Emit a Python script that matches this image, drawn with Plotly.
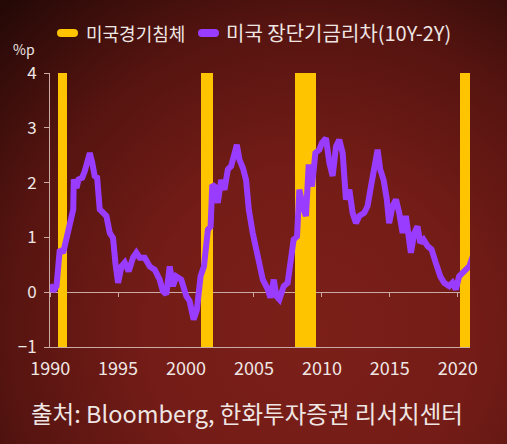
import base64
import plotly.graph_objects as go

# ---- data ----
spread_years = [
    1990.0, 1990.23, 1990.47, 1990.71, 1990.96, 1991.13, 1991.33, 1991.52, 1991.7, 1991.74,
    1991.94, 1992.1, 1992.36, 1992.55, 1992.75, 1992.92, 1993.1, 1993.28, 1993.46, 1993.65,
    1993.9, 1994.14, 1994.39, 1994.63, 1994.8, 1995.0, 1995.25, 1995.49, 1995.78, 1996.1,
    1996.35, 1996.59, 1996.96, 1997.33, 1997.7, 1998.06, 1998.3, 1998.55, 1998.8, 1999.04,
    1999.28, 1999.65, 2000.02, 2000.26, 2000.56, 2000.8, 2001.07, 2001.32, 2001.61, 2001.81,
    2001.93, 2002.1, 2002.34, 2002.59, 2002.83, 2003.08, 2003.32, 2003.57, 2003.74, 2003.93,
    2004.18, 2004.42, 2004.62, 2004.91, 2005.28, 2005.65, 2006.02, 2006.21, 2006.46, 2006.65,
    2006.87, 2007.19, 2007.48, 2007.73, 2007.92, 2008.17, 2008.34, 2008.59, 2008.83, 2009.03,
    2009.27, 2009.52, 2009.81, 2010.0, 2010.3, 2010.55, 2010.79, 2011.04, 2011.28, 2011.53,
    2011.77, 2012.02, 2012.26, 2012.51, 2012.75, 2013.12, 2013.36, 2013.61, 2013.9, 2014.1,
    2014.29, 2014.54, 2014.78, 2014.95, 2015.2, 2015.45, 2015.69, 2015.94, 2016.18, 2016.35,
    2016.55, 2016.8, 2017.04, 2017.24, 2017.48, 2017.78, 2018.07, 2018.39, 2018.71, 2019.0,
    2019.37, 2019.61, 2019.86, 2020.1, 2020.35, 2020.59, 2020.84, 2021.2,
]
spread_values = [
    0.14, 0.02, 0.11, 0.78, 0.72, 0.93, 1.14, 1.39, 1.51, 2.06,
    1.90, 2.06, 2.09, 2.21, 2.36, 2.54, 2.36, 2.12, 2.09, 1.51,
    1.45, 1.39, 1.08, 0.99, 0.54, 0.17, 0.47, 0.54, 0.38, 0.63,
    0.72, 0.63, 0.63, 0.47, 0.41, 0.23, 0.02, -0.04, 0.47, 0.11,
    0.29, 0.23, -0.07, -0.16, -0.50, -0.32, 0.29, 0.47, 1.14, 1.20,
    1.96, 1.93, 1.63, 2.05, 1.87, 2.24, 2.30, 2.51, 2.69, 2.42,
    2.27, 2.05, 1.51, 1.08, 0.66, 0.23, 0.05, -0.10, 0.23, -0.07,
    -0.13, 0.11, 0.17, 0.53, 0.96, 1.02, 1.87, 1.57, 1.39, 2.33,
    1.93, 2.54, 2.60, 2.72, 2.81, 2.36, 2.12, 2.66, 2.78, 2.54,
    1.69, 1.87, 1.45, 1.26, 1.39, 1.45, 1.57, 1.93, 2.42, 2.60,
    2.24, 2.05, 1.69, 1.26, 1.57, 1.69, 1.45, 1.08, 1.39, 0.96,
    0.72, 1.08, 1.20, 0.90, 0.96, 0.84, 0.78, 0.53, 0.29, 0.17,
    0.11, 0.17, 0.05, 0.29, 0.35, 0.41, 0.47, 0.72,
]
recession_start = [1990.55, 2001.1, 2008.0, 2020.15]
recession_end = [1991.25, 2001.95, 2009.55, 2020.9]

x_ticks = [1990, 1995, 2000, 2005, 2010, 2015, 2020]
y_ticks = [-1, 0, 1, 2, 3, 4]
legend_labels = ["미국경기침체", "미국 장단기금리차(10Y-2Y)"]
unit_label = "%p"
source_label = "출처: Bloomberg, 한화투자증권 리서치센터"

# ---- styling ----
W, H = 507, 444
ML, MR, MT, MB = 50, 37, 73, 97
PW, PH = W - ML - MR, H - MT - MB
YELLOW = "#ffc400"
PURPLE = "#9a3cff"
TEXT = "#efe6e4"
AXIS = "#c9aaa4"
FONT = "Noto Sans CJK KR"

def px_x(p):
    return (p - ML) / PW

def px_y(p):
    return (H - MB - p) / PH

svg = f"""<svg xmlns='http://www.w3.org/2000/svg' width='{W}' height='{H}'>
<defs><radialGradient id='g' gradientUnits='userSpaceOnUse' cx='310' cy='330' r='470'>
<stop offset='0' stop-color='#7c1f19'/><stop offset='0.35' stop-color='#741c17'/>
<stop offset='0.65' stop-color='#561410'/><stop offset='1' stop-color='#1c0705'/>
</radialGradient></defs><rect width='{W}' height='{H}' fill='url(#g)'/></svg>"""
bg_src = "data:image/svg+xml;base64," + base64.b64encode(svg.encode()).decode()

fig = go.Figure()

# recession bars
fig.add_trace(go.Bar(
    x=[(s + e) / 2 for s, e in zip(recession_start, recession_end)],
    y=[y_ticks[-1] - y_ticks[0]] * len(recession_start),
    base=y_ticks[0],
    width=[e - s for s, e in zip(recession_start, recession_end)],
    marker=dict(color=YELLOW, line=dict(width=0)),
    name=legend_labels[0], showlegend=False, hoverinfo="skip",
))

# spread line
fig.add_trace(go.Scatter(
    x=spread_years, y=spread_values, mode="lines",
    line=dict(color=PURPLE, width=6, shape="linear"),
    name=legend_labels[1], showlegend=False,
))

# invisible trace to carry the zero-line tick axis
fig.add_trace(go.Scatter(x=[x_ticks[0]], y=[0], xaxis="x2", mode="markers",
                         marker=dict(opacity=0), showlegend=False, hoverinfo="skip"))

xr = [1989.99, 2020.9]
fig.update_layout(
    width=W, height=H,
    margin=dict(l=ML, r=MR, t=MT, b=MB),
    paper_bgcolor="#5a1511", plot_bgcolor="rgba(0,0,0,0)",
    font=dict(family=FONT, color=TEXT),
    bargap=0,
    xaxis=dict(range=xr, tickvals=x_ticks, ticktext=[str(t) for t in x_ticks],
               showgrid=False, zeroline=False, showline=True, linecolor=AXIS, linewidth=1,
               ticks="", tickfont=dict(size=18, color=TEXT, family=FONT),
               ticklabelstandoff=5, fixedrange=True),
    xaxis2=dict(range=xr, overlaying="x", anchor="free", position=(0 - y_ticks[0]) / (y_ticks[-1] - y_ticks[0]),
                tickvals=x_ticks, showticklabels=False, ticks="outside", ticklen=4,
                tickcolor=AXIS, tickwidth=1, showline=True, linecolor=AXIS, linewidth=1,
                showgrid=False, zeroline=False, layer="below traces"),
    yaxis=dict(range=[y_ticks[0], y_ticks[-1]], tickvals=y_ticks,
               showgrid=False, zeroline=False, showline=True, linecolor=AXIS, linewidth=1,
               ticks="outside", ticklen=5, tickcolor=AXIS, tickwidth=1,
               tickfont=dict(size=17, color=TEXT, family=FONT), ticklabelstandoff=4,
               fixedrange=True),
    images=[dict(source=bg_src, xref="paper", yref="paper",
                 x=-ML / PW, y=1 + MT / PH, sizex=W / PW, sizey=H / PH,
                 xanchor="left", yanchor="top", sizing="stretch", layer="below")],
)

# manual legend: rounded pill markers + labels
def pill(x0, x1, yc, h, color):
    r = h / 2
    X0, X1 = px_x(x0 + r), px_x(x1 - r)
    Xa, Xb = px_x(x0), px_x(x1)
    Yt, Yb, Yc = px_y(yc - r), px_y(yc + r), px_y(yc)
    path = (f"M {X0} {Yt} L {X1} {Yt} Q {Xb} {Yt} {Xb} {Yc} Q {Xb} {Yb} {X1} {Yb} "
            f"L {X0} {Yb} Q {Xa} {Yb} {Xa} {Yc} Q {Xa} {Yt} {X0} {Yt} Z")
    fig.add_shape(type="path", path=path, xref="paper", yref="paper",
                  fillcolor=color, line=dict(width=0), layer="above")

pill(57, 78, 33, 8, YELLOW)
pill(198, 219, 33, 8, PURPLE)
fig.add_annotation(x=px_x(84), y=px_y(33), xref="paper", yref="paper", text=legend_labels[0],
                   showarrow=False, xanchor="left", yanchor="middle",
                   font=dict(size=18, color=TEXT, family=FONT))
fig.add_annotation(x=px_x(224), y=px_y(33), xref="paper", yref="paper", text=legend_labels[1],
                   showarrow=False, xanchor="left", yanchor="middle",
                   font=dict(size=20, color=TEXT, family=FONT))
fig.add_annotation(x=px_x(11), y=px_y(49), xref="paper", yref="paper", text=unit_label,
                   showarrow=False, xanchor="left", yanchor="middle",
                   font=dict(size=14, color=TEXT, family=FONT))
fig.add_annotation(x=px_x(29), y=px_y(413), xref="paper", yref="paper", text=source_label,
                   showarrow=False, xanchor="left", yanchor="middle",
                   font=dict(size=23.5, color=TEXT, family=FONT))

fig.write_html("out.html", config={"displayModeBar": False})
